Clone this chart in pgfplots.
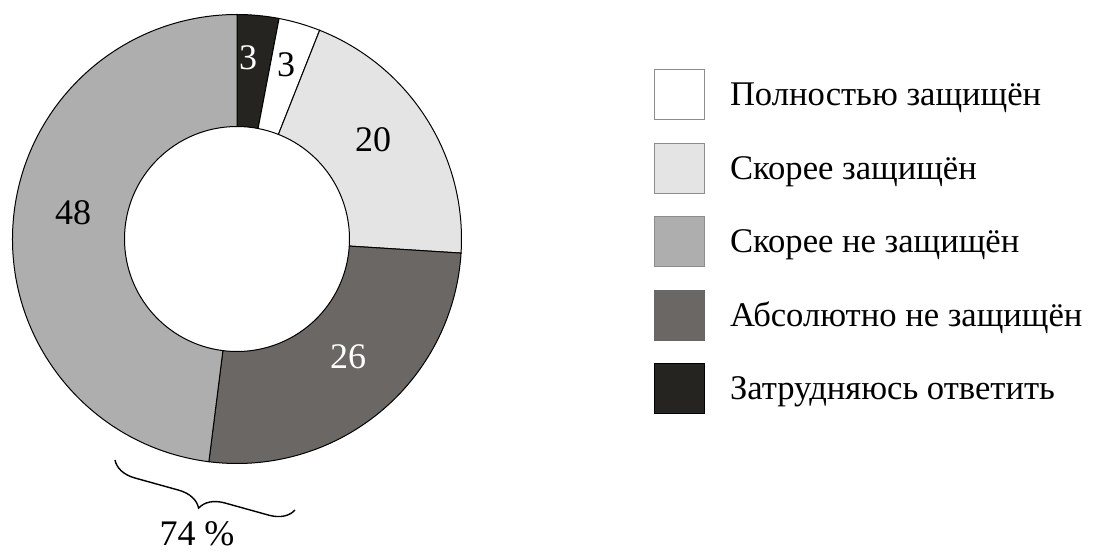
\documentclass[border=0pt]{standalone}
\usepackage{fontspec}
\setmainfont{Liberation Serif}
\usepackage{pgfplots}
\usepackage{pgfplotstable}
\pgfplotsset{compat=1.18}
\usetikzlibrary{decorations.pathreplacing}
\definecolor{cWhite}{HTML}{FFFFFF}
\definecolor{cLight}{HTML}{E4E4E4}
\definecolor{cMid}{HTML}{AEAEAE}
\definecolor{cDark}{HTML}{6B6764}
\definecolor{cBlack}{HTML}{252420}

\pgfplotstableread{
share col txtcol lx ly
3 cBlack white 248 495
3 cWhite black 286 488
20 cLight black 373 413
26 cDark white 348 196
48 cMid black 73 340
}\piedata

\begin{document}
\begin{tikzpicture}
\useasboundingbox (0,0) rectangle (556pt,276.5pt);
\begin{axis}[x=0.5pt, y=0.5pt, xmin=0, xmax=1112, ymin=0, ymax=553,
  hide axis, clip=false, anchor=south west, at={(0,0)},
  legend style={at={(axis cs:654,484)}, anchor=north west, draw=none, fill=none,
    inner sep=0pt, outer sep=0pt, row sep=11.25pt,
    font=\fontsize{17.3}{19}\selectfont,
    nodes={inner sep=0pt, outer sep=0pt, anchor=base west},
    /tikz/every odd column/.append style={column sep=12.5pt}},
  legend cell align=left,
  legend image code/.code={\filldraw[#1] (0pt,-7pt) rectangle (25pt,18pt);},
]
\pgfplotstablegetrowsof{\piedata}
\pgfmathtruncatemacro\N{\pgfplotsretval-1}
\def\cum{0}
\pgfplotsforeachungrouped \i in {0,...,\N}{%
  \pgfplotstablegetelem{\i}{share}\of\piedata \let\v\pgfplotsretval
  \pgfplotstablegetelem{\i}{col}\of\piedata \let\c\pgfplotsretval
  \pgfplotstablegetelem{\i}{txtcol}\of\piedata \let\tc\pgfplotsretval
  \pgfplotstablegetelem{\i}{lx}\of\piedata \let\lx\pgfplotsretval
  \pgfplotstablegetelem{\i}{ly}\of\piedata \let\ly\pgfplotsretval
  \pgfmathsetmacro\aA{90-3.6*\cum}
  \pgfmathsetmacro\aB{90-3.6*(\cum+\v)}
  \pgfmathsetmacro\xA{237+224.5*cos(\aA)}
  \pgfmathsetmacro\yA{314+224.5*sin(\aA)}
  \pgfmathsetmacro\xB{237+112.5*cos(\aB)}
  \pgfmathsetmacro\yB{314+112.5*sin(\aB)}
  \edef\temp{\noexpand\filldraw[fill=\c, draw=black, line width=0.5pt]
     (axis cs:\xA,\yA) arc[start angle=\aA, end angle=\aB, radius=112.25pt]
     -- (axis cs:\xB,\yB) arc[start angle=\aB, end angle=\aA, radius=56.25pt] -- cycle;
   \noexpand\node[text=\tc, inner sep=0pt, font=\noexpand\fontsize{18}{20}\noexpand\selectfont] at (axis cs:\lx,\ly) {\v};}%
  \temp
  \pgfmathsetmacro\cum{\cum+\v}%
}
\draw[decorate, decoration={brace, amplitude=12pt}, line width=0.7pt] (axis cs:295,43) -- (axis cs:115,93);
\node[anchor=base, inner sep=0pt, text depth=0pt, font=\fontsize{18}{20}\selectfont] at (axis cs:197,8) {74~\%};

\addlegendimage{fill=cWhite, draw=black!45, line width=0.5pt}
\addlegendentry{Полностью защищён}
\addlegendimage{fill=cLight, draw=black!45, line width=0.5pt}
\addlegendentry{Скорее защищён}
\addlegendimage{fill=cMid, draw=black!45, line width=0.5pt}
\addlegendentry{Скорее не защищён}
\addlegendimage{fill=cDark, draw=black!60, line width=0.5pt}
\addlegendentry{Абсолютно не защищён}
\addlegendimage{fill=cBlack, draw=black, line width=0.5pt}
\addlegendentry{Затрудняюсь ответить}
\end{axis}
\end{tikzpicture}
\end{document}
